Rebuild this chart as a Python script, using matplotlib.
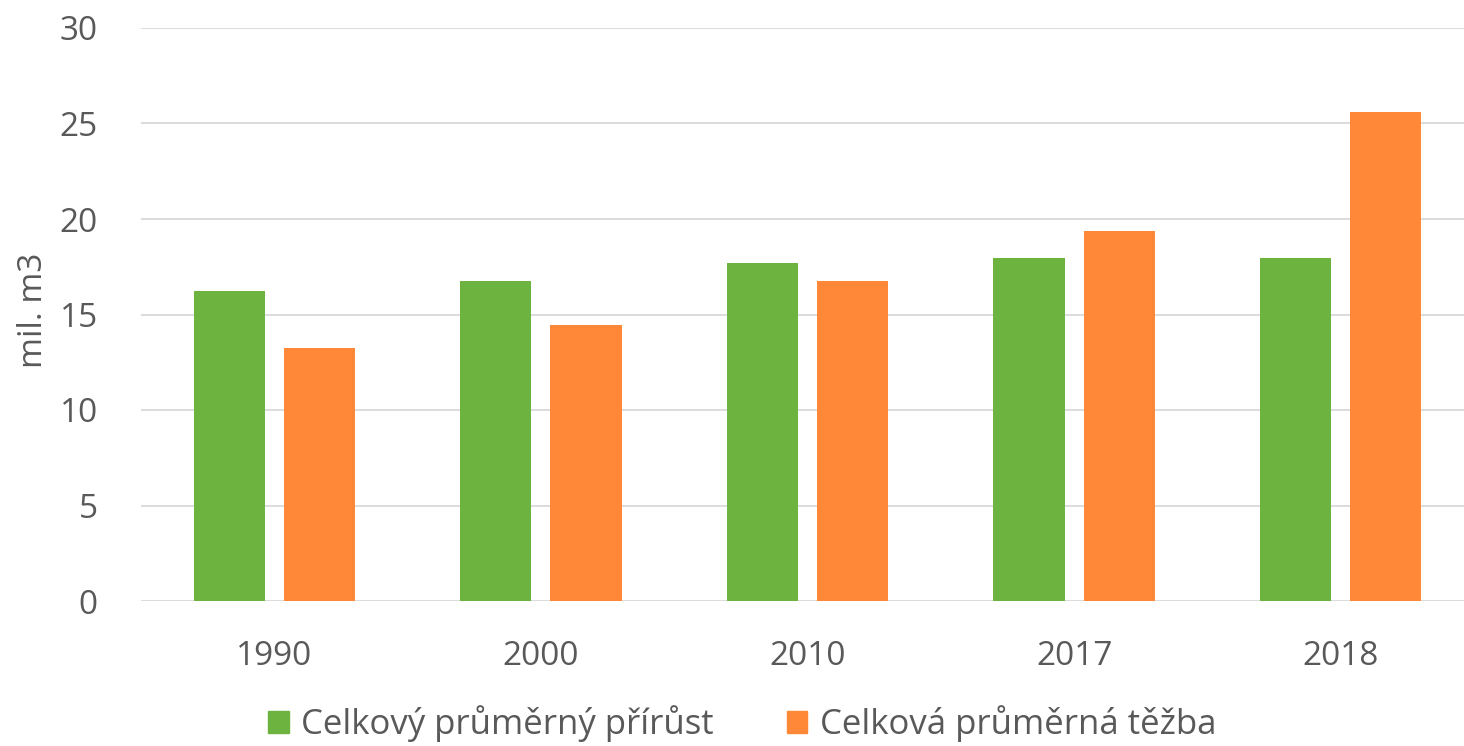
import matplotlib
matplotlib.use("Agg")
import matplotlib.pyplot as plt
import numpy as np
from matplotlib.patches import Patch

years = ["1990", "2000", "2010", "2017", "2018"]
prirust = [16.25, 16.77, 17.68, 17.97, 17.97]
tezba = [13.26, 14.45, 16.77, 19.37, 25.6]
series_names = ["Celkový průměrný přírůst", "Celková průměrná těžba"]
yticks = [0, 5, 10, 15, 20, 25, 30]

green = "#6DB33F"
orange = "#FF8838"
textc = "#595959"
gridc = "#D9D9D9"

plt.rcParams['font.family'] = ['Open Sans', 'DejaVu Sans']

fig = plt.figure(figsize=(14.64, 7.46), dpi=100)
W, H = 1464, 746
left, right = 141, 1474
top, bottom = 28, 601
ax = fig.add_axes([left / W, 1 - bottom / H, (right - left) / W, (bottom - top) / H])

x = np.arange(len(years))
bw = 0.267
off = 0.169
ax.bar(x - off, prirust, bw, color=green, zorder=3)
ax.bar(x + off, tezba, bw, color=orange, zorder=3)

ax.set_xlim(-0.5, 4.5)
ax.set_ylim(0, 30)
ax.set_yticks(yticks)
ax.set_yticklabels([str(t) for t in yticks])
ax.set_xticks(x)
ax.set_xticklabels(years)
ax.yaxis.grid(True, color=gridc, linewidth=1.3, zorder=0)
ax.set_axisbelow(True)
for s in ax.spines.values():
    s.set_visible(False)
ax.tick_params(axis='both', length=0, labelsize=24, colors=textc)
ax.tick_params(axis='y', pad=31)
ax.tick_params(axis='x', pad=28)
fig.text(33 / W, 1 - 310 / H, "mil. m3", rotation=90, ha='center', va='center',
         fontsize=24, color=textc)

handles = [Patch(color=green), Patch(color=orange)]
fig.legend(handles, series_names, loc='center', bbox_to_anchor=(742 / W, 1 - 724 / H),
           ncol=2, frameon=False, fontsize=25, labelcolor=textc,
           handlelength=0.6, handleheight=0.6, handletextpad=0.35, columnspacing=2.1,
           borderpad=0, borderaxespad=0)

fig.savefig("out.png", dpi=100)
